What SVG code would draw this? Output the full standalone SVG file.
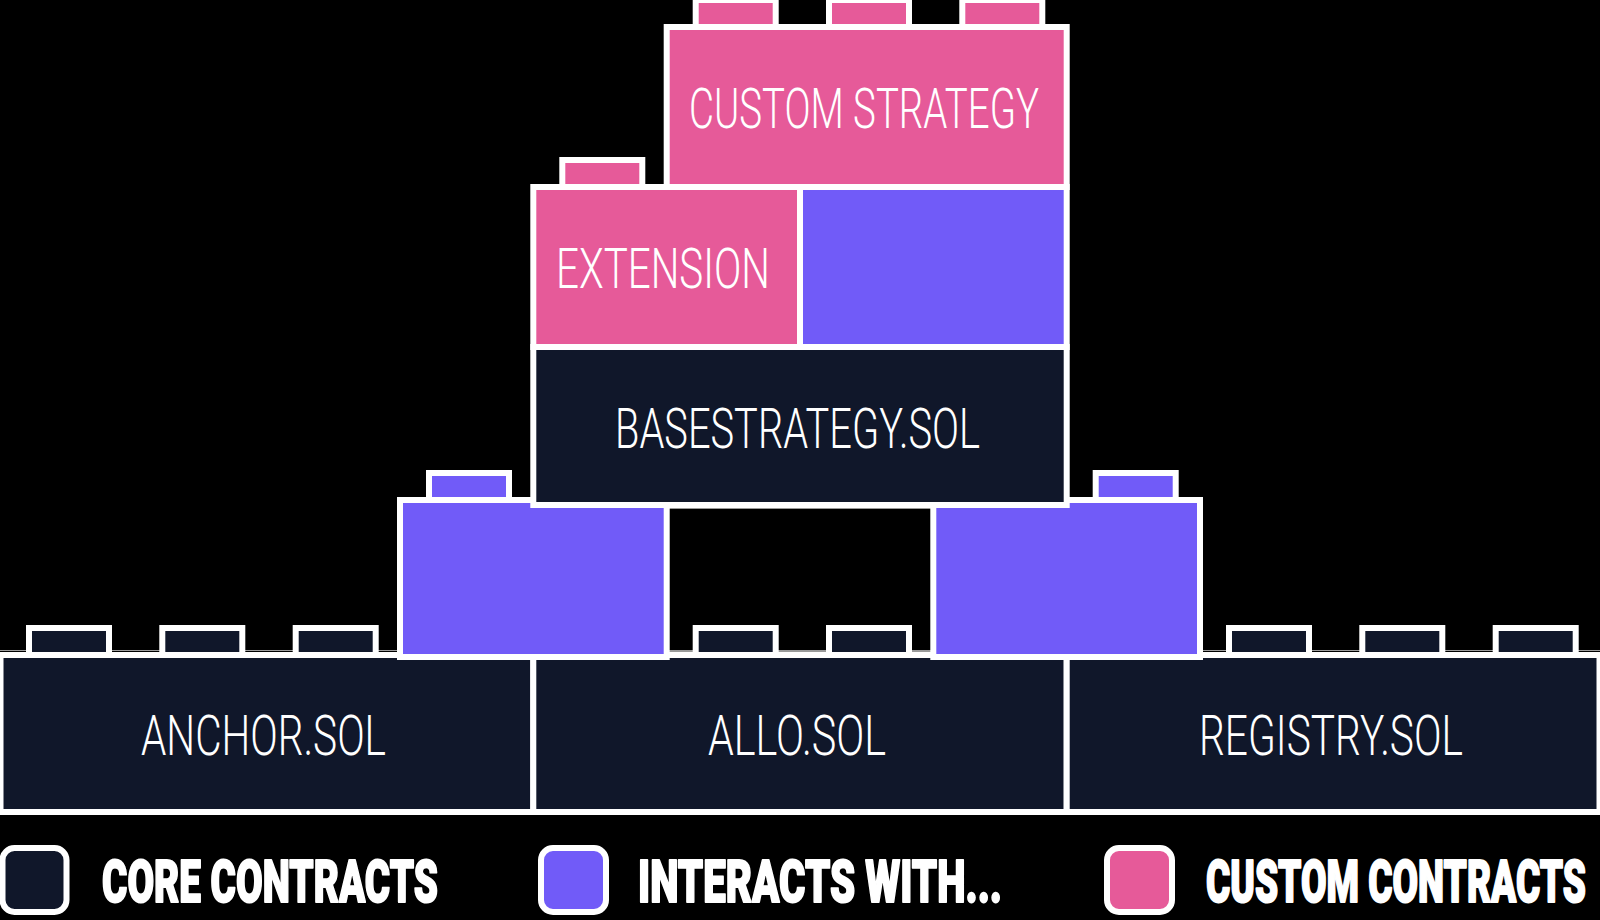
<svg xmlns="http://www.w3.org/2000/svg" width="1600" height="920" viewBox="0 0 1600 920">
<style>
.navy{fill:#10172a;stroke:#ffffff;stroke-width:6}
.purple{fill:#715bf8;stroke:#ffffff;stroke-width:6}
.pink{fill:#e65a99;stroke:#ffffff;stroke-width:6}
.lbl{font-family:Roboto,"Liberation Sans",sans-serif;font-weight:300;font-size:55px;fill:#ffffff;text-anchor:middle}
.leg{font-family:Roboto,"Liberation Sans",sans-serif;font-weight:900;font-size:60px;fill:#ffffff;stroke:#ffffff;stroke-width:2;stroke-linejoin:round}
.thin{fill:none;stroke:#9a9a9a;stroke-width:1}
</style>
<rect x="0" y="0" width="1600" height="920" fill="#000000"/>
<g id="connectors"/>
<line class="thin" x1="0" y1="650.5" x2="1600" y2="650.5"/>
<rect class="thin" x="668.5" y="508.5" width="263" height="143"/>
<g id="anchor">
<rect class="navy" x="29" y="628" width="80" height="40"/>
<rect class="navy" x="162.3" y="628" width="80" height="40"/>
<rect class="navy" x="295.7" y="628" width="80" height="40"/>
<rect class="navy" x="0.5" y="655" width="532.8" height="157"/>
<text class="lbl" x="263.5" y="754.5" textLength="245" lengthAdjust="spacingAndGlyphs">ANCHOR.SOL</text>
</g>
<g id="allo">
<rect class="navy" x="695.7" y="628" width="80" height="40"/>
<rect class="navy" x="829" y="628" width="80" height="40"/>
<rect class="navy" x="533.3" y="655" width="533.4" height="157"/>
<text class="lbl" x="797" y="754.5" textLength="178" lengthAdjust="spacingAndGlyphs">ALLO.SOL</text>
</g>
<g id="registry">
<rect class="navy" x="1229" y="628" width="80" height="40"/>
<rect class="navy" x="1362.3" y="628" width="80" height="40"/>
<rect class="navy" x="1495.7" y="628" width="80" height="40"/>
<rect class="navy" x="1066.7" y="655" width="532.8" height="157"/>
<text class="lbl" x="1331" y="754.5" textLength="264" lengthAdjust="spacingAndGlyphs">REGISTRY.SOL</text>
</g>
<g id="interacts-left">
<rect class="purple" x="429" y="473" width="80" height="40"/>
<rect class="purple" x="400" y="500" width="266.7" height="157"/>
</g>
<g id="interacts-right">
<rect class="purple" x="1095.7" y="473" width="80" height="40"/>
<rect class="purple" x="933.3" y="500" width="266.7" height="157"/>
</g>
<g id="basestrategy">
<rect class="navy" x="533.3" y="347" width="533.4" height="158"/>
<text class="lbl" x="797.5" y="448" textLength="365" lengthAdjust="spacingAndGlyphs">BASESTRATEGY.SOL</text>
</g>
<g id="extension">
<rect class="pink" x="562.3" y="160" width="80" height="40"/>
<rect class="pink" x="533.3" y="187" width="266.7" height="160"/>
<text class="lbl" x="663" y="288" textLength="214" lengthAdjust="spacingAndGlyphs">EXTENSION</text>
</g>
<g id="interacts-middle">
<rect class="purple" x="800" y="187" width="266.7" height="160"/>
</g>
<g id="custom-strategy">
<rect class="pink" x="695.7" y="0" width="80" height="40"/>
<rect class="pink" x="829" y="0" width="80" height="40"/>
<rect class="pink" x="962.3" y="0" width="80" height="40"/>
<rect class="pink" x="666.7" y="27" width="400" height="160"/>
<text class="lbl" x="864" y="127.5" textLength="350" lengthAdjust="spacingAndGlyphs">CUSTOM STRATEGY</text>
</g>
<g id="legend-core">
<rect class="navy" x="2.5" y="848" width="64" height="64" rx="12"/>
<text class="leg" x="102" y="902" textLength="336" lengthAdjust="spacingAndGlyphs">CORE CONTRACTS</text>
</g>
<g id="legend-interacts">
<rect class="purple" x="541" y="848" width="65" height="64" rx="12"/>
<text class="leg" x="638" y="902" textLength="364" lengthAdjust="spacingAndGlyphs">INTERACTS WITH...</text>
</g>
<g id="legend-custom">
<rect class="pink" x="1107" y="848" width="65" height="64" rx="12"/>
<text class="leg" x="1206" y="902" textLength="380" lengthAdjust="spacingAndGlyphs">CUSTOM CONTRACTS</text>
</g>
</svg>
